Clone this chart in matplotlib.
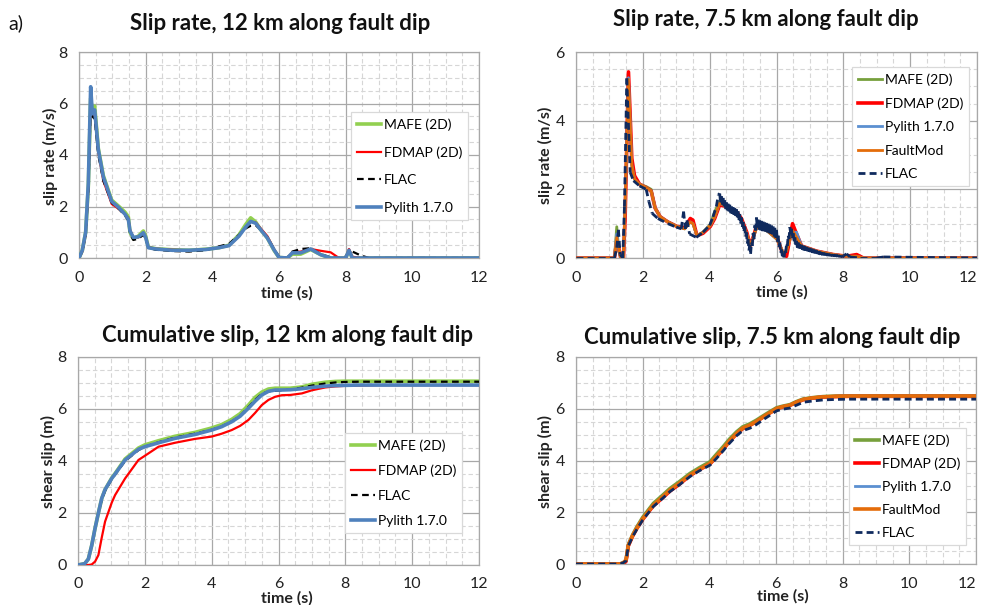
import numpy as np
import matplotlib
matplotlib.use("Agg")
import matplotlib.pyplot as plt
from matplotlib.ticker import MultipleLocator
from matplotlib.collections import LineCollection
from matplotlib.lines import Line2D

plt.rcParams['font.family'] = ['Lato', 'DejaVu Sans']

time_ticks = [0, 2, 4, 6, 8, 10, 12]

# ---------------- Slip rate, 12 km along fault dip ----------------
t_rate12 = [0, 0.1, 0.2, 0.28, 0.35, 0.40, 0.47, 0.58, 0.73, 0.98, 1.2, 1.38, 1.48,
            1.53, 1.63, 1.78, 1.93, 2.0, 2.08, 2.3, 2.8, 3.3, 3.8, 4.2, 4.5, 4.8,
            5.0, 5.15, 5.3, 5.45, 5.65, 5.85, 6.0, 6.25, 6.4, 6.65, 6.95, 7.25,
            7.55, 7.8, 8.0, 8.1, 8.2, 8.45, 8.7, 12]
rate12_mafe = [0, 0.3, 1.0, 2.8, 6.2, 5.7, 5.9, 4.25, 3.2, 2.25, 2.0, 1.78, 1.6,
               1.0, 0.75, 0.85, 1.05, 0.85, 0.42, 0.36, 0.32, 0.3, 0.34, 0.4, 0.5, 0.9,
               1.3, 1.56, 1.4, 1.1, 0.78, 0.3, 0.02, 0.0, 0.15, 0.15, 0.33, 0.13,
               0.0, 0.0, 0.0, 0.28, 0.0, 0.0, 0.0, 0.0]
rate12_fdmap = [0, 0.25, 0.9, 2.7, 6.0, 5.5, 5.6, 4.1, 3.0, 2.1, 1.9, 1.7, 1.55,
                1.1, 0.8, 0.8, 0.95, 0.82, 0.42, 0.36, 0.32, 0.3, 0.33, 0.4, 0.48, 0.85,
                1.2, 1.4, 1.38, 1.15, 0.85, 0.35, 0.02, 0.0, 0.22, 0.25, 0.35, 0.28,
                0.22, 0.0, 0.0, 0.35, 0.05, 0.0, 0.0, 0.0]
rate12_flac = [0, 0.25, 0.9, 2.6, 5.8, 5.5, 5.4, 4.0, 3.0, 2.15, 1.9, 1.65, 1.45,
               0.95, 0.7, 0.75, 0.9, 0.75, 0.4, 0.32, 0.27, 0.25, 0.3, 0.45, 0.55, 0.9,
               1.15, 1.25, 1.27, 1.1, 0.8, 0.35, 0.05, 0.0, 0.25, 0.35, 0.38, 0.15,
               0.02, 0.0, 0.05, 0.25, 0.25, 0.1, 0.0, 0.0]
rate12_pylith = [0, 0.3, 1.0, 2.9, 6.65, 5.6, 5.75, 4.2, 3.15, 2.2, 1.95, 1.7, 1.5,
                 1.05, 0.8, 0.82, 0.98, 0.8, 0.4, 0.35, 0.3, 0.3, 0.33, 0.4, 0.48, 0.85,
                 1.2, 1.42, 1.35, 1.1, 0.78, 0.32, 0.02, 0.0, 0.2, 0.2, 0.35, 0.13,
                 0.0, 0.0, 0.0, 0.3, 0.0, 0.0, 0.0, 0.0]

# ---------------- Slip rate, 7.5 km along fault dip ----------------
t_rate75 = [0, 1.15, 1.22, 1.28, 1.34, 1.42, 1.47, 1.57, 1.67, 1.75, 1.9, 2.1, 2.25,
            2.37, 2.52, 2.75, 3.02, 3.25, 3.42, 3.5, 3.62, 3.8, 4.02, 4.15, 4.3, 4.5,
            4.8, 4.95, 5.11, 5.22, 5.41, 5.71, 6.01, 6.2, 6.3, 6.48, 6.6, 6.75, 7.2,
            7.7, 8.1, 8.4, 8.6, 12]
rate75_mafe = [0, 0, 0.91, 0.2, 0.0, 0.0, 1.6, 5.2, 2.7, 2.3, 2.15, 2.08, 2.0,
               1.45, 1.2, 1.05, 0.92, 0.85, 1.05, 1.0, 0.65, 0.75, 0.98, 1.35, 1.65, 1.5,
               1.3, 1.1, 0.7, 0.35, 0.9, 0.8, 0.55, 0.15, 0.2, 0.85, 0.6, 0.35, 0.2,
               0.1, 0.05, 0.05, 0.0, 0.0]
rate75_fdmap = [0, 0, 0.5, 0.3, 0.0, 0.0, 1.2, 5.42, 2.9, 2.4, 2.15, 2.05, 1.95,
                1.45, 1.2, 1.05, 0.92, 0.88, 1.15, 1.1, 0.65, 0.72, 0.92, 1.15, 1.55, 1.5,
                1.35, 1.15, 0.75, 0.35, 0.95, 0.85, 0.6, 0.1, 0.05, 1.0, 0.7, 0.35, 0.2,
                0.1, 0.05, 0.1, 0.0, 0.0]
rate75_pylith = [0, 0, 0.7, 0.25, 0.0, 0.0, 1.5, 5.25, 2.7, 2.3, 2.15, 2.05, 1.95,
                 1.45, 1.2, 1.05, 0.92, 0.85, 1.05, 1.0, 0.65, 0.75, 0.95, 1.2, 1.6, 1.5,
                 1.3, 1.1, 0.7, 0.35, 0.9, 0.8, 0.55, 0.15, 0.25, 0.75, 0.75, 0.35, 0.2,
                 0.1, 0.05, 0.05, 0.0, 0.0]
rate75_faultmod = [0, 0, 0.6, 0.3, 0.0, 0.0, 1.5, 5.2, 2.7, 2.3, 2.15, 2.05, 1.95,
                   1.45, 1.2, 1.05, 0.92, 0.85, 1.05, 1.0, 0.65, 0.75, 0.95, 1.2, 1.6, 1.5,
                   1.3, 1.1, 0.7, 0.35, 0.9, 0.8, 0.55, 0.15, 0.2, 0.8, 0.6, 0.35, 0.2,
                   0.1, 0.05, 0.05, 0.0, 0.0]
# FLAC output is sampled densely and carries high-frequency oscillation after 4.3 s
t_rate75_flac = [
    0, 1.15, 1.22, 1.27, 1.32, 1.40, 1.45, 1.52, 1.62, 1.72, 1.9, 2.1,
    2.18, 2.28, 2.45, 2.75, 3.0, 3.15, 3.22, 3.27, 3.32, 3.4, 3.6, 3.8,
    4.0, 4.1, 4.2, 4.26,
    4.300, 4.325, 4.350, 4.375, 4.400, 4.425, 4.450, 4.475, 4.500, 4.525,
    4.550, 4.575, 4.600, 4.625, 4.650, 4.675, 4.700, 4.725, 4.750, 4.775,
    4.800, 4.825, 4.850, 4.875, 4.900, 4.925, 4.950, 4.975, 5.000, 5.025,
    5.050, 5.075, 5.100, 5.125, 5.150, 5.175, 5.200, 5.225, 5.250, 5.275,
    5.300, 5.325, 5.350, 5.375, 5.400, 5.425, 5.450, 5.475, 5.500, 5.525,
    5.550, 5.575, 5.600, 5.625, 5.650, 5.675, 5.700, 5.725, 5.750, 5.775,
    5.800, 5.825, 5.850, 5.875, 5.900, 5.925, 5.950, 5.975, 6.000, 6.025,
    6.050, 6.075, 6.100, 6.125, 6.150, 6.175, 6.200, 6.225, 6.250, 6.275,
    6.300, 6.325, 6.350, 6.375, 6.400, 6.425, 6.450, 6.475, 6.500, 6.525,
    6.550, 6.575, 6.600, 6.625, 6.650, 6.675, 6.700, 6.725, 6.750, 6.775,
    6.800, 6.825, 6.850, 6.875, 6.900, 6.925, 6.950, 6.975, 7.000, 7.025,
    7.050, 7.075, 7.100, 7.125, 7.150, 7.175, 7.200, 7.225, 7.250, 7.275,
    7.300, 7.325, 7.350, 7.375, 7.400, 7.425, 7.450, 7.475, 7.500, 7.525,
    7.550, 7.575, 7.600, 7.625, 7.650, 7.675, 7.700, 7.725, 7.750, 7.775,
    7.800, 7.825, 7.850, 7.875, 7.900, 7.925, 7.950, 7.975, 8.000,
    8.1, 8.2, 8.5, 9.0, 9.2, 12]
rate75_flac = [
    0, 0, 0.3, 0.82, 0.1, 0.0, 1.5, 5.23, 2.5, 2.25, 2.1, 2.0,
    1.65, 1.3, 1.15, 1.0, 0.9, 0.85, 1.35, 0.85, 1.1, 0.7, 0.6, 0.75,
    0.95, 1.2, 1.5, 1.84,
    1.88, 1.62, 1.80, 1.55, 1.75, 1.50, 1.68, 1.42, 1.62, 1.38,
    1.58, 1.35, 1.55, 1.30, 1.50, 1.28, 1.48, 1.25, 1.45, 1.22,
    1.42, 1.18, 1.36, 1.10, 1.28, 1.00, 1.18, 0.90, 1.05, 0.78,
    0.92, 0.62, 0.75, 0.42, 0.55, 0.22, 0.38, 0.12, 0.45, 0.35,
    0.72, 0.55, 0.95, 0.80, 1.18, 0.88, 1.12, 0.82, 1.10, 0.80,
    1.08, 0.78, 1.06, 0.78, 1.04, 0.76, 1.02, 0.74, 1.00, 0.72,
    0.98, 0.70, 0.95, 0.68, 0.92, 0.62, 0.88, 0.58, 0.82, 0.48,
    0.65, 0.32, 0.45, 0.15, 0.25, 0.05, 0.12, 0.02, 0.20, 0.15,
    0.40, 0.35, 0.65, 0.55, 0.90, 0.70, 0.85, 0.58, 0.72, 0.48,
    0.60, 0.38, 0.50, 0.30, 0.45, 0.28, 0.40, 0.27, 0.38, 0.24,
    0.36, 0.22, 0.34, 0.21, 0.32, 0.20, 0.30, 0.18, 0.29, 0.17,
    0.27, 0.15, 0.25, 0.14, 0.24, 0.13, 0.22, 0.12, 0.20, 0.10,
    0.19, 0.09, 0.17, 0.08, 0.16, 0.08, 0.15, 0.07, 0.14, 0.06,
    0.13, 0.06, 0.12, 0.05, 0.11, 0.05, 0.11, 0.04, 0.10, 0.04,
    0.10, 0.03, 0.09, 0.03, 0.08, 0.02, 0.07, 0.02, 0.06,
    0.12, 0.03, 0.0, 0.0, 0.03, 0.0]

# ---------------- Cumulative slip, 12 km along fault dip ----------------
t_slip12 = [0, 0.2, 0.31, 0.41, 0.51, 0.61, 0.71, 0.81, 1.01, 1.11, 1.41, 1.81, 2.0,
            2.41, 2.9, 3.5, 4.0, 4.3, 4.6, 4.85, 5.1, 5.3, 5.5, 5.7, 5.9, 6.1, 6.35,
            6.7, 7.0, 7.4, 7.7, 8.0, 8.4, 9.0, 12]
slip12_mafe = [0, 0.05, 0.23, 0.75, 1.41, 2.0, 2.56, 2.9, 3.35, 3.52, 4.08, 4.5, 4.62,
               4.78, 4.95, 5.1, 5.27, 5.4, 5.6, 5.82, 6.15, 6.45, 6.65, 6.77, 6.8, 6.8,
               6.8, 6.85, 6.95, 7.03, 7.06, 7.07, 7.07, 7.07, 7.07]
slip12_fdmap = [0, 0, 0, 0.02, 0.13, 0.38, 1.05, 1.67, 2.4, 2.69, 3.33, 4.04, 4.2,
                4.55, 4.7, 4.85, 4.94, 5.05, 5.19, 5.35, 5.58, 5.85, 6.15, 6.35, 6.47,
                6.53, 6.54, 6.6, 6.72, 6.83, 6.87, 6.89, 6.9, 6.92, 6.92]
slip12_flac = [0, 0.05, 0.23, 0.75, 1.41, 2.0, 2.5, 2.85, 3.3, 3.48, 4.0, 4.42, 4.55,
               4.72, 4.9, 5.05, 5.2, 5.33, 5.52, 5.73, 6.07, 6.35, 6.58, 6.68, 6.7, 6.72,
               6.75, 6.82, 6.9, 6.98, 7.02, 7.04, 7.05, 7.05, 7.05]
slip12_pylith = [0, 0.05, 0.23, 0.75, 1.41, 2.0, 2.56, 2.9, 3.33, 3.5, 4.04, 4.45, 4.55,
                 4.7, 4.87, 5.02, 5.19, 5.32, 5.51, 5.72, 6.03, 6.3, 6.54, 6.68, 6.73,
                 6.73, 6.74, 6.78, 6.83, 6.88, 6.9, 6.91, 6.92, 6.92, 6.92]

# ---------------- Cumulative slip, 7.5 km along fault dip ----------------
t_slip75 = [0, 1.32, 1.42, 1.5, 1.57, 1.7, 1.82, 2.0, 2.32, 2.6, 2.82, 3.1, 3.42, 3.7,
            4.02, 4.2, 4.42, 4.6, 4.82, 5.0, 5.22, 5.4, 5.62, 5.82, 6.02, 6.2, 6.42,
            6.6, 6.82, 7.1, 7.41, 7.8, 8.2, 9.0, 12]
slip75_mafe = [0, 0, 0.05, 0.15, 0.75, 1.13, 1.42, 1.8, 2.34, 2.66, 2.92, 3.18, 3.5,
               3.72, 3.95, 4.22, 4.54, 4.82, 5.11, 5.3, 5.42, 5.55, 5.73, 5.89, 6.04,
               6.1, 6.16, 6.27, 6.38, 6.43, 6.47, 6.49, 6.5, 6.5, 6.5]
slip75_fdmap = [0, 0, 0.03, 0.1, 0.7, 1.08, 1.36, 1.72, 2.25, 2.56, 2.82, 3.08, 3.42,
                3.64, 3.87, 4.12, 4.44, 4.73, 5.03, 5.23, 5.36, 5.49, 5.68, 5.84, 6.0,
                6.07, 6.13, 6.24, 6.35, 6.41, 6.45, 6.47, 6.48, 6.48, 6.48]
slip75_pylith = [0, 0, 0.05, 0.15, 0.73, 1.1, 1.38, 1.75, 2.28, 2.6, 2.86, 3.12, 3.44,
                 3.66, 3.89, 4.15, 4.47, 4.75, 5.05, 5.25, 5.37, 5.5, 5.69, 5.85, 6.01,
                 6.08, 6.14, 6.25, 6.36, 6.42, 6.46, 6.48, 6.49, 6.49, 6.49]
slip75_faultmod = [0, 0, 0.05, 0.15, 0.73, 1.1, 1.38, 1.75, 2.28, 2.6, 2.86, 3.12, 3.44,
                   3.66, 3.89, 4.15, 4.47, 4.75, 5.05, 5.25, 5.37, 5.5, 5.69, 5.85, 6.01,
                   6.08, 6.14, 6.25, 6.36, 6.42, 6.46, 6.48, 6.49, 6.49, 6.49]
slip75_flac = [0, 0, 0.05, 0.12, 0.7, 1.06, 1.33, 1.7, 2.22, 2.54, 2.8, 3.06, 3.38,
               3.6, 3.82, 4.06, 4.38, 4.66, 4.96, 5.15, 5.25, 5.38, 5.58, 5.75, 5.92,
               5.98, 6.03, 6.13, 6.25, 6.3, 6.34, 6.36, 6.37, 6.37, 6.37]

W, H = 982, 605
fig = plt.figure(figsize=(W / 100, H / 100), dpi=100)


def px_rect(x0, y0, x1, y1):
    return [x0 / W, 1 - y1 / H, (x1 - x0) / W, (y1 - y0) / H]


def fx(x):
    return x / W


def fy(y):
    return 1 - y / H


def make_axes(rect, ymax, right_edge=False):
    ax = fig.add_axes(rect)
    ax.set_xlim(0, 12)
    ax.set_ylim(0, ymax)
    ax.set_xticks(time_ticks, labels=[str(v) for v in time_ticks])
    ax.xaxis.set_minor_locator(MultipleLocator(0.5))
    ax.yaxis.set_major_locator(MultipleLocator(2))
    ax.yaxis.set_minor_locator(MultipleLocator(0.5))
    ax.grid(which='major', color='#A8A8A8', lw=0.9)
    ax.grid(which='minor', color='#D6D6D6', lw=0.8, ls=(0, (4, 2.5)))
    ax.tick_params(which='both', length=0)
    ax.tick_params(axis='y', pad=8, labelsize=11.5, labelcolor='#222222')
    ax.tick_params(axis='x', pad=9, labelsize=11.5, labelcolor='#222222')
    for s in ax.spines.values():
        s.set_color('#A8A8A8')
        s.set_linewidth(0.9)
    ax.set_axisbelow(True)
    if right_edge:
        # keep the last time label inside the canvas
        ax.get_xticklabels()[-1].set_horizontalalignment('right')
    return ax


def dashed_per_segment(ax, t, v, color, lw, dashes, zorder):
    # dash pattern restarts on every sample-to-sample segment
    pts = np.column_stack([t, v])
    segs = np.stack([pts[:-1], pts[1:]], axis=1)
    lc = LineCollection(segs, colors=color, linewidths=lw,
                        linestyles=[(0, dashes)], zorder=zorder, capstyle='butt')
    ax.add_collection(lc)
    return lc


def add_legend(ax, x, y, spacing, handles=None):
    kw = dict(loc='upper left', bbox_to_anchor=(fx(x), fy(y)),
              bbox_transform=fig.transFigure, frameon=True, fancybox=False,
              edgecolor='#D9D9D9', framealpha=1, fontsize=10,
              handlelength=1.7, handletextpad=0.2, labelspacing=spacing,
              borderpad=0.45, borderaxespad=0)
    leg = ax.legend(handles=handles, **kw) if handles else ax.legend(**kw)
    leg.get_frame().set_linewidth(0.9)
    return leg


title_kw = dict(fontsize=16, fontweight='bold', ha='center', va='center', color='#111111')
lab_kw = dict(fontsize=11.5, fontweight='bold', ha='center', va='center', color='#222222')

# Panel 1
ax1 = make_axes(px_rect(79, 52, 479, 258), 8)
ax1.plot(t_rate12, rate12_mafe, color='#92D050', lw=2.6, label='MAFE (2D)', zorder=3)
ax1.plot(t_rate12, rate12_fdmap, color='#FF0000', lw=1.6, label='FDMAP (2D)', zorder=4)
ax1.plot(t_rate12, rate12_flac, color='#000000', lw=1.6, dashes=(3, 2),
         label='FLAC', zorder=5)
ax1.plot(t_rate12, rate12_pylith, color='#4F81BD', lw=2.6, label='Pylith 1.7.0', zorder=6)
add_legend(ax1, 351, 112, 1.11)
fig.text(fx(280), fy(23), 'Slip rate, 12 km along fault dip', **title_kw)
fig.text(fx(50), fy(156), 'slip rate (m/s)', rotation=90, **lab_kw)
fig.text(fx(287), fy(293), 'time (s)', **lab_kw)
fig.text(fx(8), fy(23), 'a)', fontsize=14, ha='left', va='center', color='#111111')

# Panel 2
ax2 = make_axes(px_rect(576, 52, 977, 258), 6, right_edge=True)
h_mafe = ax2.plot(t_rate75, rate75_mafe, color='#77A03C', lw=2.0, label='MAFE (2D)', zorder=3)[0]
h_fd = ax2.plot(t_rate75, rate75_fdmap, color='#FF0000', lw=2.6, label='FDMAP (2D)', zorder=3)[0]
h_py = ax2.plot(t_rate75, rate75_pylith, color='#5B8FD0', lw=2.0, label='Pylith 1.7.0', zorder=4)[0]
h_fm = ax2.plot(t_rate75, rate75_faultmod, color='#E46C0A', lw=2.0, label='FaultMod', zorder=5)[0]
dashed_per_segment(ax2, t_rate75_flac, rate75_flac, '#0F2A5E', 2.0, (2.5, 1.5), 6)
h_flac = Line2D([], [], color='#0F2A5E', lw=2.0, dashes=(2.5, 1.5), label='FLAC')
add_legend(ax2, 852, 67, 0.82, handles=[h_mafe, h_fd, h_py, h_fm, h_flac])
fig.text(fx(766), fy(19), 'Slip rate, 7.5 km along fault dip', **title_kw)
fig.text(fx(545), fy(155), 'slip rate (m/s)', rotation=90, **lab_kw)
fig.text(fx(782), fy(292), 'time (s)', **lab_kw)

# Panel 3
ax3 = make_axes(px_rect(78, 357, 479, 565), 8)
ax3.plot(t_slip12, slip12_mafe, color='#92D050', lw=2.6, label='MAFE (2D)', zorder=3)
ax3.plot(t_slip12, slip12_fdmap, color='#FF0000', lw=1.6, label='FDMAP (2D)', zorder=4)
ax3.plot(t_slip12, slip12_flac, color='#000000', lw=1.6, dashes=(3, 2),
         label='FLAC', zorder=5)
ax3.plot(t_slip12, slip12_pylith, color='#4F81BD', lw=2.6, label='Pylith 1.7.0', zorder=6)
add_legend(ax3, 345, 433, 0.92)
fig.text(fx(287), fy(336), 'Cumulative slip, 12 km along fault dip', **title_kw)
fig.text(fx(48), fy(461), 'shear slip (m)', rotation=90, **lab_kw)
fig.text(fx(287), fy(598), 'time (s)', **lab_kw)

# Panel 4
ax4 = make_axes(px_rect(576, 357, 976, 564), 8, right_edge=True)
ax4.plot(t_slip75, slip75_mafe, color='#77A03C', lw=2.6, label='MAFE (2D)', zorder=3)
ax4.plot(t_slip75, slip75_fdmap, color='#FF0000', lw=2.6, label='FDMAP (2D)', zorder=4)
ax4.plot(t_slip75, slip75_pylith, color='#5B8FD0', lw=2.0, label='Pylith 1.7.0', zorder=5)
ax4.plot(t_slip75, slip75_faultmod, color='#E46C0A', lw=2.6, label='FaultMod', zorder=5)
ax4.plot(t_slip75, slip75_flac, color='#0F2A5E', lw=2.0, dashes=(2.5, 1.5),
         label='FLAC', zorder=6)
add_legend(ax4, 849, 428, 0.79)
fig.text(fx(772), fy(337), 'Cumulative slip, 7.5 km along fault dip', **title_kw)
fig.text(fx(545), fy(461), 'shear slip (m)', rotation=90, **lab_kw)
fig.text(fx(783), fy(596), 'time (s)', **lab_kw)

fig.savefig('out.png', dpi=100, facecolor='white')
